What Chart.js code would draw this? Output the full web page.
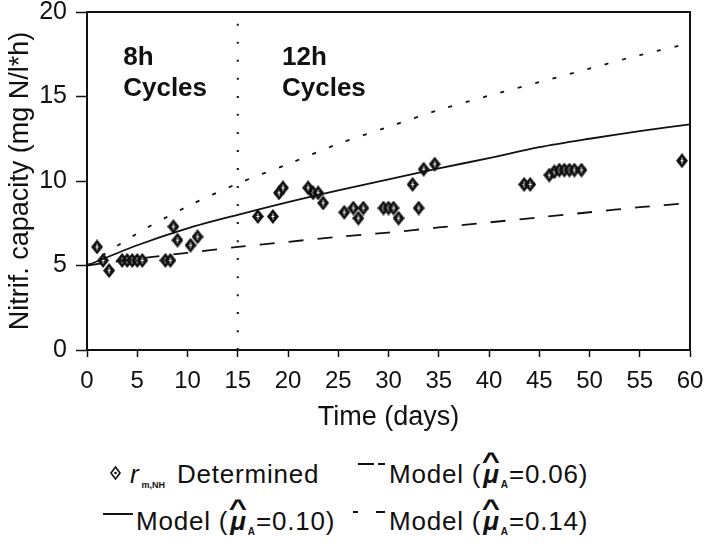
<!DOCTYPE html>
<html>
<head>
<meta charset="utf-8">
<script src="https://cdn.jsdelivr.net/npm/chart.js@4.4.0/dist/chart.umd.min.js"></script>
<style>
  html, body { margin: 0; padding: 0; background: #fff; }
  #wrap { position: relative; width: 705px; height: 544px; font-family: "Liberation Sans", Arial, sans-serif; color: #111; }
  #chart { position: absolute; left: 0; top: 0; }
  .lg { position: absolute; font-size: 26px; line-height: 30px; white-space: nowrap; letter-spacing: 0.8px; }
  .hat { position: relative; display: inline-block; font-weight: bold; font-style: italic; margin: 0 1px 0 2px; }
  .hat::before { content: "^"; position: absolute; left: 1px; top: -13px; font-size: 24px; font-weight: bold; font-style: normal; transform: scaleX(1.3); }
  .sub { font-size: 10px; font-weight: bold; vertical-align: -5px; margin-right: 1px; letter-spacing: 0; }
  .seg { position: absolute; height: 2px; background: #111; }
</style>
</head>
<body>
<div id="wrap">
  <canvas id="chart" width="705" height="440"></canvas>

  <!-- legend row 1 -->
  <svg class="lg" style="left:110px;top:466px" width="11" height="14" viewBox="0 0 11 14">
    <path d="M5.5 1 L10 7 L5.5 13 L1 7 Z" fill="none" stroke="#111" stroke-width="1.6"/>
    <circle cx="5.5" cy="7" r="1.3" fill="#111"/>
  </svg>
  <div class="lg" style="left:130px;top:459px"><i>r</i><span class="sub" style="font-size:9px;margin:0 12px 0 2px">m,NH</span>Determined</div>
  <div class="seg" style="left:358px;top:463px;width:16px"></div>
  <div class="seg" style="left:378px;top:463px;width:7px"></div>
  <div class="lg" style="left:389px;top:459px">Model (<span class="hat">μ</span><span class="sub">A</span>=0.06)</div>

  <!-- legend row 2 -->
  <div class="seg" style="left:103px;top:513px;width:30px"></div>
  <div class="lg" style="left:136px;top:506px">Model (<span class="hat">μ</span><span class="sub">A</span>=0.10)</div>
  <div class="seg" style="left:353px;top:511px;width:5px"></div>
  <div class="seg" style="left:376px;top:511px;width:9px"></div>
  <div class="lg" style="left:389px;top:506px">Model (<span class="hat">μ</span><span class="sub">A</span>=0.14)</div>
</div>

<script>
// model curves, sampled every 5 days
const modelDays = [0, 5, 10, 15, 20, 25, 30, 35, 40, 45, 50, 55, 60];
const modelMu006 = [5.0, 5.4, 5.75, 6.1, 6.4, 6.7, 6.95, 7.25, 7.55, 7.85, 8.15, 8.45, 8.7];
const modelMu010 = [5.0, 6.2, 7.2, 8.0, 8.75, 9.45, 10.1, 10.75, 11.35, 12.0, 12.5, 12.95, 13.35];
const modelMu014 = [5.0, 6.9, 8.5, 9.85, 11.0, 12.2, 13.2, 14.2, 15.05, 15.85, 16.65, 17.45, 18.15];

// determined nitrification capacity
const measDays = [1.0, 1.6, 2.2, 3.5, 4.0, 4.5, 5.0, 5.5, 7.8, 8.3, 8.6, 9.0, 10.3, 11.0,
    17.0, 18.5, 19.1, 19.5, 22.0, 22.5, 23.0, 23.5, 25.6, 26.5, 27.0, 27.5, 29.5, 30.0,
    30.5, 31.0, 32.4, 33.0, 33.5, 34.6, 43.5, 44.1, 46.0, 46.5, 47.0, 47.5, 48.0, 48.5,
    49.2, 59.2];
const measRate = [6.1, 5.3, 4.7, 5.3, 5.3, 5.3, 5.3, 5.3, 5.3, 5.3, 7.3, 6.5, 6.2, 6.7,
    7.9, 7.9, 9.3, 9.6, 9.6, 9.3, 9.3, 8.7, 8.15, 8.4, 7.8, 8.4, 8.4, 8.4,
    8.4, 7.8, 9.8, 8.4, 10.7, 11.0, 9.8, 9.8, 10.35, 10.55, 10.65, 10.65, 10.65, 10.65,
    10.65, 11.2];

const yTicks = [0, 5, 10, 15, 20];
const cycleSwitchDay = 15;
const cycleLabels = [['8h', 'Cycles'], ['12h', 'Cycles']];
const cycleLabelDays = [3.6, 19.4];
const cycleLabelTop = 16.85;

const FONT = '"Liberation Sans", Arial, sans-serif';
const INK = '#111';

function toPoints(xs, ys) {
    return xs.map((x, i) => ({ x, y: ys[i] }));
}

function diamondMarker() {
    const c = document.createElement('canvas');
    c.width = 12;
    c.height = 15;
    const g = c.getContext('2d');
    g.fillStyle = INK;
    g.beginPath();
    g.moveTo(6, 0); g.lineTo(12, 7.5); g.lineTo(6, 15); g.lineTo(0, 7.5);
    g.closePath();
    g.fill();
    g.strokeStyle = '#fff';
    g.lineWidth = 1;
    g.beginPath();
    g.moveTo(6, 4.5); g.lineTo(6, 10.5);
    g.moveTo(4.5, 7.5); g.lineTo(7.5, 7.5);
    g.stroke();
    return c;
}

// frame + cycle annotations
const framePlugin = {
    id: 'frameAndLabels',
    afterDatasetsDraw(chart) {
        const { ctx, chartArea, scales: { x, y } } = chart;
        ctx.save();
        ctx.strokeStyle = INK;
        ctx.lineWidth = 2;
        ctx.strokeRect(chartArea.left, chartArea.top, chartArea.width, chartArea.height);
        ctx.fillStyle = INK;
        ctx.font = `bold 26px ${FONT}`;
        ctx.textBaseline = 'alphabetic';
        cycleLabels.forEach((lines, i) => {
            const px = x.getPixelForValue(cycleLabelDays[i]);
            const py = y.getPixelForValue(cycleLabelTop);
            lines.forEach((t, j) => ctx.fillText(t, px, py + j * 31));
        });
        ctx.restore();
    }
};

const lineSet = (data, dash, width) => ({
    type: 'line',
    data,
    showLine: true,
    borderColor: INK,
    borderWidth: width,
    borderDash: dash,
    pointRadius: 0,
    tension: 0.3,
    fill: false
});

new Chart(document.getElementById('chart'), {
    type: 'scatter',
    data: {
        datasets: [
            lineSet(toPoints(modelDays, modelMu010), [], 1.8),
            lineSet(toPoints(modelDays, modelMu006), [15, 14], 1.8),
            lineSet(toPoints(modelDays, modelMu014), [4, 14], 1.8),
            lineSet([{ x: cycleSwitchDay, y: yTicks[0] }, { x: cycleSwitchDay, y: yTicks[yTicks.length - 1] }], [2, 16], 2),
            {
                type: 'scatter',
                data: toPoints(measDays, measRate),
                pointStyle: diamondMarker(),
                pointRadius: 6
            }
        ]
    },
    options: {
        responsive: false,
        animation: false,
        layout: { padding: { top: 12, right: 15, left: 0, bottom: 0 } },
        plugins: { legend: { display: false }, tooltip: { enabled: false } },
        scales: {
            x: {
                type: 'linear',
                min: 0,
                max: 60,
                afterFit: s => { s.height = 90; s.paddingLeft = 0; s.paddingRight = 0; },
                ticks: { stepSize: 5, color: INK, padding: 10, font: { family: FONT, size: 24 } },
                grid: { drawOnChartArea: false, color: INK, tickLength: 7, tickWidth: 1.5 },
                border: { color: INK, width: 2 },
                title: { display: true, text: 'Time (days)', color: INK, font: { family: FONT, size: 27 }, padding: { top: 0, bottom: 6 } }
            },
            y: {
                min: 0,
                max: 20,
                afterFit: s => { s.width = 87; s.paddingTop = 0; s.paddingBottom = 0; },
                afterBuildTicks: s => { s.ticks = yTicks.map(v => ({ value: v })); },
                ticks: { color: INK, padding: 9, font: { family: FONT, size: 25 } },
                grid: { drawOnChartArea: false, color: INK, tickLength: 11, tickWidth: 1.5 },
                border: { color: INK, width: 2 },
                title: { display: true, text: 'Nitrif. capacity (mg N/l*h)', color: INK, font: { family: FONT, size: 27 }, padding: { top: 4, bottom: 4 } }
            }
        }
    },
    plugins: [framePlugin]
});
</script>
</body>
</html>
